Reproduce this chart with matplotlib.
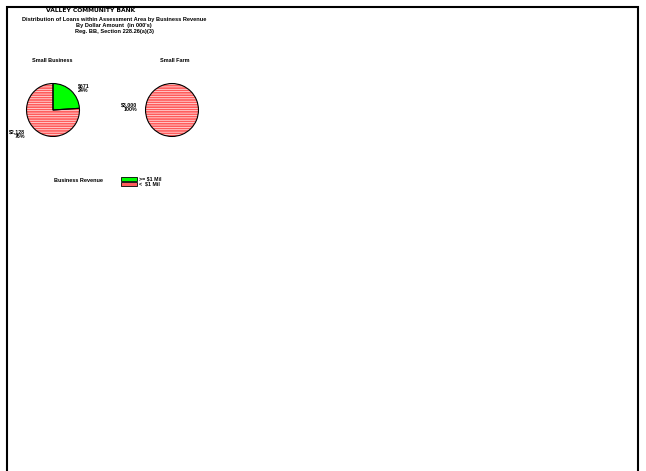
import matplotlib
matplotlib.use('Agg')
import matplotlib.pyplot as plt
from matplotlib.patches import Rectangle

matplotlib.rcParams['font.family'] = ['Liberation Sans', 'DejaVu Sans']
matplotlib.rcParams['font.weight'] = 'bold'
matplotlib.rcParams['hatch.color'] = 'white'
matplotlib.rcParams['hatch.linewidth'] = 0.45

# data
revenue_classes = ['>= $1 Mil', '<  $1 Mil']
colors = ['#00ff00', '#ff5c5c']
small_business = [671, 2128]
small_business_labels = ['$671\n24%', '$2,128\n76%']
small_farm = [0, 3000]
small_farm_labels = ['', '$3,000\n100%']

W, H = 646, 471
fig = plt.figure(figsize=(W / 100, H / 100), dpi=100)


def px(x, y):
    return x / W, 1 - y / H


# page border
fig.add_artist(Rectangle(px(7, 480), 631 / W, 473 / H, transform=fig.transFigure,
                         fill=False, edgecolor='black', linewidth=1.5))

# titles
fig.text(*px(91, 11), 'VALLEY COMMUNITY BANK', ha='center', va='center', fontsize=4.3,
         family='DejaVu Sans')
fig.text(*px(114, 19), 'Distribution of Loans within Assessment Area by Business Revenue',
         ha='center', va='center', fontsize=4.1)
fig.text(*px(114, 25), "By Dollar Amount  (in 000's)", ha='center', va='center', fontsize=4.1)
fig.text(*px(114, 31), 'Reg. BB, Section 228.26(a)(3)', ha='center', va='center', fontsize=4.1)

fig.text(*px(52, 60), 'Small Business', ha='center', va='center', fontsize=4.0)
fig.text(*px(175, 60), 'Small Farm', ha='center', va='center', fontsize=4.0)


def draw_pie(cx, cy, r, values):
    ax = fig.add_axes([(cx - r) / W, 1 - (cy + r) / H, 2 * r / W, 2 * r / H])
    vals = [v for v in values if v > 0]
    cols = [c for v, c in zip(values, colors) if v > 0]
    hatches = ['' if c == colors[0] else '-------' for c in cols]
    wedges, _ = ax.pie(vals, colors=cols, startangle=90, counterclock=False,
                       wedgeprops=dict(linewidth=0, edgecolor='white'))
    for w, h in zip(wedges, hatches):
        w.set_hatch(h)
    ax.pie(vals, startangle=90, counterclock=False,
           wedgeprops=dict(fill=False, edgecolor='black', linewidth=0.8))
    ax.set_xlim(-1.02, 1.02)
    ax.set_ylim(-1.02, 1.02)
    ax.axis('off')
    return ax


draw_pie(53, 110, 27, small_business)
draw_pie(172, 110, 27, small_farm)

fig.text(*px(78, 88), small_business_labels[0], ha='left', va='center', fontsize=3.8,
         linespacing=1.0)
fig.text(*px(25, 134), small_business_labels[1], ha='right', va='center', fontsize=3.8,
         linespacing=1.0)
fig.text(*px(137, 107), small_farm_labels[1], ha='right', va='center', fontsize=3.8,
         linespacing=1.0)

# legend
fig.text(*px(78, 181), 'Business Revenue', ha='center', va='center', fontsize=4.0)
for i, (lab, col) in enumerate(zip(revenue_classes, colors)):
    y = 177 + i * 5
    fig.add_artist(Rectangle(px(121, y + 4), 16 / W, 4 / H, transform=fig.transFigure,
                             facecolor=col, edgecolor='black', linewidth=0.6))
    fig.text(*px(139, y + 2), lab, ha='left', va='center', fontsize=3.8)

plt.savefig('out.png', dpi=100)
